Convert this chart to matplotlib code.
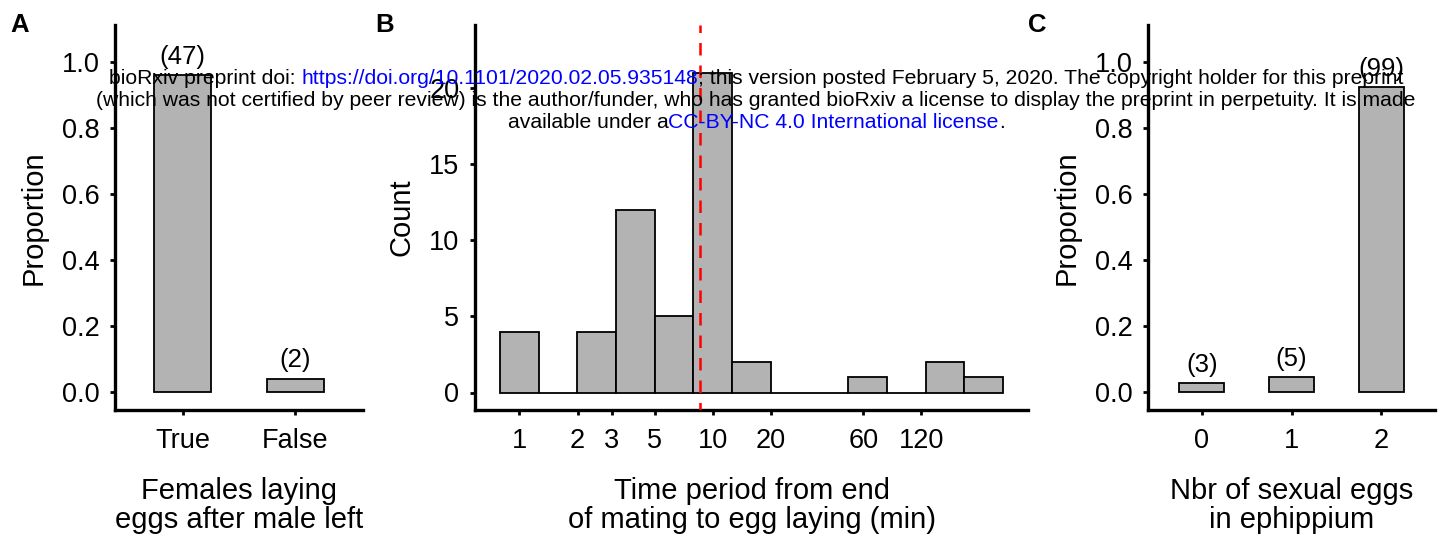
import numpy as np
import matplotlib
matplotlib.use("Agg")
import matplotlib.pyplot as plt

plt.rcParams['font.family'] = ['Liberation Sans', 'DejaVu Sans']

# ---------------- data ----------------
a_categories = ['True', 'False']
a_counts = [47, 2]

b_bin_centers_log10 = [0.0, 0.2, 0.4, 0.6, 0.8, 1.0, 1.2, 1.4, 1.6, 1.8, 2.0, 2.2, 2.4]
b_binwidth_log10 = 0.2
b_counts = [4, 0, 4, 12, 5, 21, 2, 0, 0, 1, 0, 2, 1]
b_ticks = [1, 2, 3, 5, 10, 20, 60, 120]
b_yticks = [0, 5, 10, 15, 20]
b_median = 8.6

c_categories = ['0', '1', '2']
c_counts = [3, 5, 99]

prop_ticks = [0.0, 0.2, 0.4, 0.6, 0.8, 1.0]

# ---------------- style ----------------
W, H = 1441, 537
DPI = 100
BAR_FILL = '#B3B3B3'
TICK_FS = 19.5
TITLE_FS = 21
LAB_FS = 18.5
AX_LW = 2.4

fig = plt.figure(figsize=(W / DPI, H / DPI), dpi=DPI)


def px_axes(x0, x1, y0, y1):
    return fig.add_axes([x0 / W, 1 - y1 / H, (x1 - x0) / W, (y1 - y0) / H])


def style(ax):
    for s in ['top', 'right']:
        ax.spines[s].set_visible(False)
    for s in ['left', 'bottom']:
        ax.spines[s].set_linewidth(AX_LW)
        ax.spines[s].set_capstyle('projecting')
    ax.tick_params(direction='out', length=3.8, width=2.0, labelsize=TICK_FS,
                   colors='black')
    ax.tick_params(axis='y', pad=7.5)
    ax.tick_params(axis='x', pad=9.5)
    ax.minorticks_off()


def prop_panel(ax, cats, counts, xlabel):
    counts = np.asarray(counts, dtype=float)
    props = counts / counts.sum()
    x = np.arange(len(cats))
    ax.bar(x, props, width=0.5, color=BAR_FILL, edgecolor='black', linewidth=1.3, zorder=2)
    for xi, p, n in zip(x, props, counts):
        ax.annotate(f'({int(n)})', (xi, p), xytext=(0, 13), textcoords='offset points',
                    ha='center', va='center', fontsize=LAB_FS)
    ax.set_xlim(-0.6, len(cats) - 0.4)
    ax.set_ylim(-0.0545, 1.112)
    ax.set_xticks(x)
    ax.set_xticklabels(cats)
    ax.set_yticks(prop_ticks)
    ax.set_yticklabels([f'{t:.1f}' for t in prop_ticks])
    ax.set_ylabel('Proportion', fontsize=TITLE_FS, labelpad=10)
    ax.set_xlabel(xlabel, fontsize=TITLE_FS, labelpad=16, linespacing=1.08)
    style(ax)


# Panel A
axA = px_axes(115, 363, 25, 410)
prop_panel(axA, a_categories, a_counts, 'Females laying\neggs after male left')

# Panel B
axB = px_axes(475, 1028, 25, 410)
centers = np.asarray(b_bin_centers_log10)
lefts = 10 ** (centers - b_binwidth_log10 / 2)
rights = 10 ** (centers + b_binwidth_log10 / 2)
axB.set_xscale('log')
axB.bar(lefts, b_counts, width=rights - lefts, align='edge', color=BAR_FILL,
        edgecolor='black', linewidth=1.3, zorder=2)
axB.axvline(b_median, color='#FF0000', lw=1.8, linestyle=(2, (5, 4)), zorder=3)
lo, hi = centers[0] - b_binwidth_log10 / 2, centers[-1] + b_binwidth_log10 / 2
ext = 0.05 * (hi - lo)
axB.set_xlim(10 ** (lo - ext), 10 ** (hi + ext))
axB.set_ylim(-1.15, 24.15)
axB.set_xticks(b_ticks)
axB.set_xticklabels([str(t) for t in b_ticks])
axB.set_yticks(b_yticks)
axB.set_yticklabels([str(t) for t in b_yticks])
axB.set_ylabel('Count', fontsize=TITLE_FS, labelpad=10)
axB.set_xlabel('Time period from end\nof mating to egg laying (min)', fontsize=TITLE_FS,
               labelpad=16, linespacing=1.08)
style(axB)
axB.xaxis.set_minor_locator(matplotlib.ticker.NullLocator())

# Panel C
axC = px_axes(1148, 1435, 25, 410)
prop_panel(axC, c_categories, c_counts, 'Nbr of sexual eggs\nin ephippium')

# Panel letters
for lab, xp in [('A', 19.5), ('B', 385), ('C', 1037)]:
    fig.text(xp / W, 1 - 24.5 / H, lab, fontsize=18.5, fontweight='bold',
             ha='center', va='center')

# ---------------- bioRxiv watermark ----------------
BLUE = '#0000FF'
lines = [
    ([('bioRxiv preprint doi: ', 'black'),
      ('https://doi.org/10.1101/2020.02.05.935148', BLUE),
      ('; this version posted February 5, 2020. The copyright holder for this preprint', 'black')], 79),
    ([('(which was not certified by peer review) is the author/funder, who has granted bioRxiv a license to display the preprint in perpetuity. It is made', 'black')], 101),
    ([('available under a', 'black'),
      ('CC-BY-NC 4.0 International license', BLUE),
      ('.', 'black')], 123),
]
renderer = fig.canvas.get_renderer()
probe = fig.text(0, 0, lines[1][0][0][0], fontsize=14)
w14 = probe.get_window_extent(renderer).width
probe.remove()
wm_fs = 14 * 1331 / w14

for segs, yp in lines:
    texts = []
    widths = []
    for s, c in segs:
        t = fig.text(0, 1 - yp / H, s, fontsize=wm_fs, color=c, ha='left', va='center', zorder=20)
        texts.append(t)
        widths.append(t.get_window_extent(renderer).width)
    total = sum(widths)
    x = 756 - total / 2
    for t, w in zip(texts, widths):
        t.set_x(x / W)
        x += w

fig.savefig('out.png', dpi=DPI)
